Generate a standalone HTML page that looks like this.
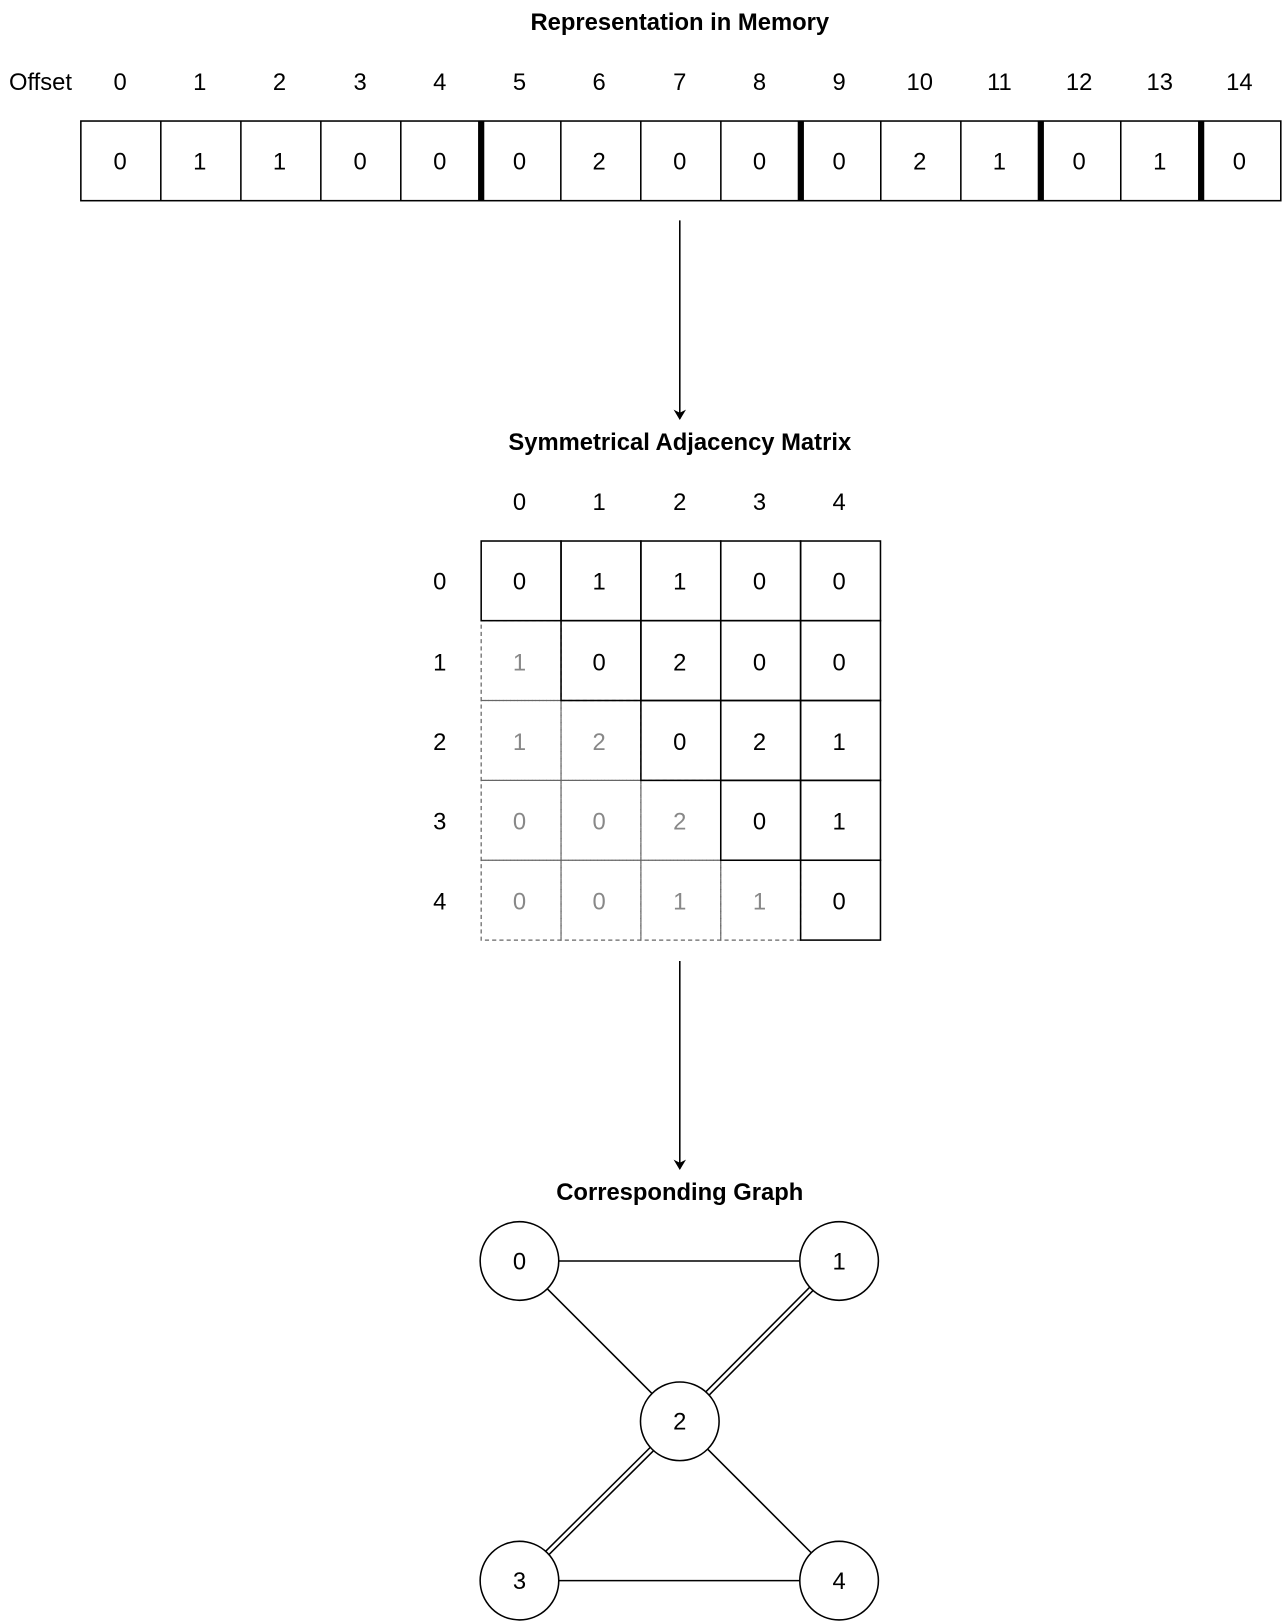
<!DOCTYPE html>
<html><head><meta charset="utf-8"><style>html,body{margin:0;padding:0;background:#fff}svg{display:block}</style></head>
<body>
<svg width="1282" height="1622" viewBox="0 0 1239 1568" xmlns="http://www.w3.org/2000/svg" font-family="Liberation Sans, sans-serif" font-size="23" text-anchor="middle">
<defs><marker id="ah" markerWidth="10" markerHeight="12" refX="9" refY="6" orient="auto" markerUnits="userSpaceOnUse"><path d="M0,0 L10,6 L0,12 L3,6 Z" fill="#000"/></marker></defs>
<text x="657" y="29" font-weight="bold">Representation in Memory</text>
<text x="39" y="87">Offset</text>
<g>
<text x="116" y="87">0</text><text x="193" y="87">1</text><text x="270" y="87">2</text><text x="348" y="87">3</text><text x="425" y="87">4</text><text x="502" y="87">5</text><text x="579" y="87">6</text><text x="657" y="87">7</text><text x="734" y="87">8</text><text x="811" y="87">9</text><text x="889" y="87">10</text><text x="966" y="87">11</text><text x="1043" y="87">12</text><text x="1121" y="87">13</text><text x="1198" y="87">14</text>
</g>
<g fill="none" stroke="#000" stroke-width="1.5">
<rect x="78" y="117" width="1160" height="77"/>
<path d="M155.3 117V194M232.7 117V194M310 117V194M387.3 117V194M542 117V194M619.3 117V194M696.7 117V194M851.3 117V194M928.7 117V194M1083.3 117V194"/>
</g>
<g fill="#000">
<rect x="462" y="117" width="6" height="77"/><rect x="771" y="117" width="6" height="77"/><rect x="1003" y="117" width="6" height="77"/><rect x="1158" y="117" width="6" height="77"/>
</g>
<g>
<text x="116" y="164">0</text><text x="193" y="164">1</text><text x="270" y="164">1</text><text x="348" y="164">0</text><text x="425" y="164">0</text><text x="502" y="164">0</text><text x="579" y="164">2</text><text x="657" y="164">0</text><text x="734" y="164">0</text><text x="811" y="164">0</text><text x="889" y="164">2</text><text x="966" y="164">1</text><text x="1043" y="164">0</text><text x="1121" y="164">1</text><text x="1198" y="164">0</text>
</g>
<line x1="657" y1="213" x2="657" y2="405" stroke="#000" stroke-width="1.5" marker-end="url(#ah)"/>
<text x="657" y="435" font-weight="bold">Symmetrical Adjacency Matrix</text>
<g>
<text x="502" y="493">0</text><text x="579" y="493">1</text><text x="657" y="493">2</text><text x="734" y="493">3</text><text x="811" y="493">4</text>
<text x="425" y="570">0</text><text x="425" y="648">1</text><text x="425" y="725">2</text><text x="425" y="802">3</text><text x="425" y="879">4</text>
</g>
<g fill="none" stroke="#666" stroke-width="1.2" stroke-dasharray="4 3">
<rect x="465" y="600" width="77.2" height="77.2"/>
<rect x="465" y="677.2" width="77.2" height="77.2"/><rect x="542.2" y="677.2" width="77.2" height="77.2"/>
<rect x="465" y="754.4" width="77.2" height="77.2"/><rect x="542.2" y="754.4" width="77.2" height="77.2"/><rect x="619.4" y="754.4" width="77.2" height="77.2"/>
<rect x="465" y="831.6" width="77.2" height="77.2"/><rect x="542.2" y="831.6" width="77.2" height="77.2"/><rect x="619.4" y="831.6" width="77.2" height="77.2"/><rect x="696.6" y="831.6" width="77.2" height="77.2"/>
</g>
<g fill="none" stroke="#000" stroke-width="1.5">
<rect x="465" y="523" width="77.2" height="77"/><rect x="542.2" y="523" width="77.2" height="77"/><rect x="619.4" y="523" width="77.2" height="77"/><rect x="696.6" y="523" width="77.2" height="77"/><rect x="773.8" y="523" width="77.2" height="77"/>
<rect x="542.2" y="600" width="77.2" height="77.2"/><rect x="619.4" y="600" width="77.2" height="77.2"/><rect x="696.6" y="600" width="77.2" height="77.2"/><rect x="773.8" y="600" width="77.2" height="77.2"/>
<rect x="619.4" y="677.2" width="77.2" height="77.2"/><rect x="696.6" y="677.2" width="77.2" height="77.2"/><rect x="773.8" y="677.2" width="77.2" height="77.2"/>
<rect x="696.6" y="754.4" width="77.2" height="77.2"/><rect x="773.8" y="754.4" width="77.2" height="77.2"/>
<rect x="773.8" y="831.6" width="77.2" height="77.2"/>
</g>
<g>
<text x="502" y="570">0</text><text x="579" y="570">1</text><text x="657" y="570">1</text><text x="734" y="570">0</text><text x="811" y="570">0</text>
<text x="579" y="648">0</text><text x="657" y="648">2</text><text x="734" y="648">0</text><text x="811" y="648">0</text>
<text x="657" y="725">0</text><text x="734" y="725">2</text><text x="811" y="725">1</text>
<text x="734" y="802">0</text><text x="811" y="802">1</text>
<text x="811" y="879">0</text>
</g>
<g fill="#888">
<text x="502" y="648">1</text>
<text x="502" y="725">1</text><text x="579" y="725">2</text>
<text x="502" y="802">0</text><text x="579" y="802">0</text><text x="657" y="802">2</text>
<text x="502" y="879">0</text><text x="579" y="879">0</text><text x="657" y="879">1</text><text x="734" y="879">1</text>
</g>
<line x1="657" y1="929" x2="657" y2="1130" stroke="#000" stroke-width="1.5" marker-end="url(#ah)"/>
<text x="657" y="1160" font-weight="bold">Corresponding Graph</text>
<g stroke="#000" stroke-width="1.5" fill="none">
<line x1="502" y1="1219" x2="811" y2="1219"/>
<line x1="502" y1="1219" x2="657" y2="1374"/>
<line x1="657" y1="1374" x2="811" y2="1528"/>
<line x1="502" y1="1528" x2="811" y2="1528"/>
<line x1="811" y1="1219" x2="657" y2="1374" stroke-width="6"/>
<line x1="811" y1="1219" x2="657" y2="1374" stroke="#fff" stroke-width="3"/>
<line x1="657" y1="1374" x2="502" y2="1528" stroke-width="6"/>
<line x1="657" y1="1374" x2="502" y2="1528" stroke="#fff" stroke-width="3"/>
</g>
<g stroke="#000" stroke-width="1.5" fill="#fff">
<circle cx="502" cy="1219" r="38"/><circle cx="811" cy="1219" r="38"/><circle cx="657" cy="1374" r="38"/><circle cx="502" cy="1528" r="38"/><circle cx="811" cy="1528" r="38"/>
</g>
<text x="502" y="1227">0</text><text x="811" y="1227">1</text><text x="657" y="1382">2</text><text x="502" y="1536">3</text><text x="811" y="1536">4</text>
</svg>
</body></html>
